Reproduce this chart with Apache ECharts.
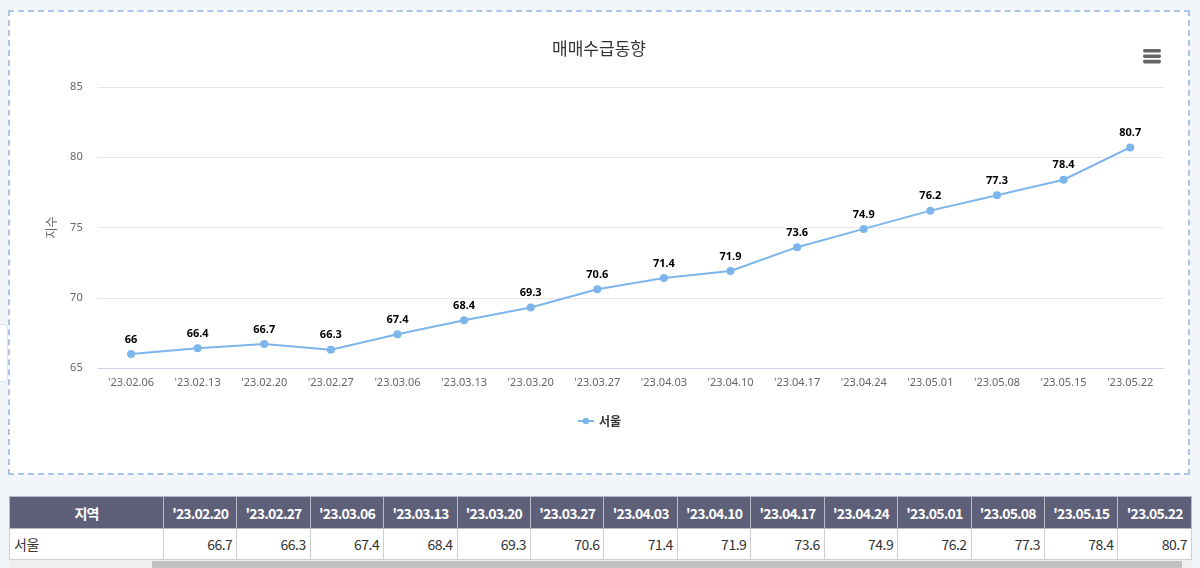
<!DOCTYPE html>
<html>
<head>
<meta charset="utf-8">
<script src="https://cdn.jsdelivr.net/npm/echarts@6/dist/echarts.min.js"></script>
<style>
  html, body { margin: 0; padding: 0; background: #f2f6fb; width: 1200px; height: 568px; overflow: hidden; font-family: "Noto Sans", "Noto Sans CJK KR", sans-serif; }
  #box { position: absolute; left: 8px; top: 10px; width: 1178px; height: 461px; border: 2px dashed #a8c5ec; background: #fff; }
  #chart { position: absolute; left: 0; top: 0; width: 1178px; height: 461px; }
  #tab { position: absolute; left: -6px; top: 324px; width: 12px; height: 56px; border: 1px solid #dde3ea; border-radius: 4px; background: #fff; }
  #tbl { position: absolute; left: 9px; top: 496px; width: 1183px; height: 72px; overflow: hidden; background: #fff; }
  table { border-collapse: collapse; table-layout: fixed; font-family: "Noto Sans CJK KR", sans-serif; }
  th { background: #5e6079; color: #fff; font-weight: bold; font-size: 14px; height: 31px; border: 1px solid #b9bac6; padding: 0 3px; letter-spacing: -0.8px; text-align: center; }
  td { color: #333; font-size: 14px; height: 30px; border: 1px solid #cfcfcf; padding: 0 4px; text-align: right; letter-spacing: -0.5px; }
  td.first { text-align: left; }
  #scroll { position: absolute; left: 9px; top: 560px; width: 1183px; height: 8px; background: #f0f0f0; }
  #thumb { position: absolute; left: 143px; top: 1px; width: 1030px; height: 7px; background: #c1c1c1; }
</style>
</head>
<body>
<div id="tab"></div>
<div id="box"><div id="chart"></div></div>
<div id="tbl"></div>
<div id="scroll"><div id="thumb"></div></div>
<script>
const categories = ["'23.02.06","'23.02.13","'23.02.20","'23.02.27","'23.03.06","'23.03.13","'23.03.20","'23.03.27","'23.04.03","'23.04.10","'23.04.17","'23.04.24","'23.05.01","'23.05.08","'23.05.15","'23.05.22"];
const seoul = [66, 66.4, 66.7, 66.3, 67.4, 68.4, 69.3, 70.6, 71.4, 71.9, 73.6, 74.9, 76.2, 77.3, 78.4, 80.7];
const yTicks = { min: 65, max: 85, interval: 5 };
const tableCategories = categories.slice(2);
const tableValues = seoul.slice(2);
const titleText = '매매수급동향';
const seriesName = '서울';
const regionHeader = '지역';
const yName = '지수';

const chart = echarts.init(document.getElementById('chart'));
const font = '"Noto Sans", "Noto Sans CJK KR", sans-serif';
chart.setOption({
  animation: false,
  title: { text: titleText, left: 'center', top: 23, textStyle: { fontSize: 17, fontWeight: 'normal', color: '#333', fontFamily: '"Noto Sans CJK KR", sans-serif' } },
  toolbox: {
    right: 12, top: 22, itemSize: 18,
    iconStyle: { color: '#666', borderColor: '#666', borderWidth: 0 },
    emphasis: { iconStyle: { color: '#666', borderColor: '#666' } },
    feature: { myMenu: { show: true, title: '', icon: 'path://M1.5,0 H18.5 Q20,0 20,2 Q20,4 18.5,4 H1.5 Q0,4 0,2 Q0,0 1.5,0 Z M1.5,6 H18.5 Q20,6 20,8 Q20,10 18.5,10 H1.5 Q0,10 0,8 Q0,6 1.5,6 Z M1.5,12 H18.5 Q20,12 20,14 Q20,16 18.5,16 H1.5 Q0,16 0,14 Q0,12 1.5,12 Z', onclick: function(){} } }
  },
  legend: { top: 398, left: 'center', itemWidth: 16, itemHeight: 8, textStyle: { fontSize: 12, fontWeight: 'bold', color: '#333', fontFamily: '"Noto Sans CJK KR", sans-serif' }, data: [seriesName] },
  grid: { left: 87.7, right: 24.5, top: 75, bottom: 105 },
  xAxis: {
    type: 'category', data: categories, boundaryGap: true,
    axisLine: { lineStyle: { color: '#ccd6eb', width: 1 } },
    axisTick: { show: false },
    axisLabel: { color: '#666', fontSize: 11, margin: 9, fontFamily: font, interval: 0 }
  },
  yAxis: {
    type: 'value', min: yTicks.min, max: yTicks.max, interval: yTicks.interval,
    name: yName, nameLocation: 'middle', nameRotate: 90, nameGap: 40,
    nameTextStyle: { color: '#666', fontSize: 12, fontFamily: '"Noto Sans CJK KR", sans-serif' },
    axisLine: { show: false }, axisTick: { show: false },
    axisLabel: { color: '#666', fontSize: 11, margin: 15, fontFamily: font },
    splitLine: { lineStyle: { color: '#e6e6e6', width: 1 } }
  },
  series: [{
    name: seriesName, type: 'line', data: seoul,
    symbol: 'circle', symbolSize: 8,
    lineStyle: { color: '#7cb5ec', width: 2 },
    itemStyle: { color: '#7cb5ec' },
    label: { show: true, position: 'top', distance: 5, fontSize: 11, fontWeight: 'bold', color: '#000', textBorderColor: '#fff', textBorderWidth: 2, fontFamily: font }
  }]
});

// table
let html = '<table><colgroup><col style="width:156px">';
tableCategories.forEach(() => html += '<col style="width:73.6px">');
html += '</colgroup><tr><th>' + regionHeader + '</th>';
tableCategories.forEach(c => html += '<th>' + c + '</th>');
html += '</tr><tr><td class="first">' + seriesName + '</td>';
tableValues.forEach(v => html += '<td>' + v + '</td>');
html += '</tr></table>';
document.getElementById('tbl').innerHTML = html;
</script>
</body>
</html>
